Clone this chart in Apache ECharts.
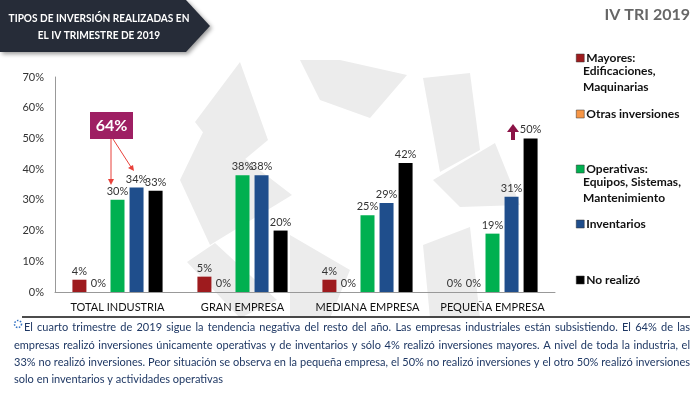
<!DOCTYPE html>
<html><head><meta charset="utf-8">
<script src="https://cdn.jsdelivr.net/npm/echarts@6/dist/echarts.min.js"></script>
<style>html,body{margin:0;padding:0;background:#fff}#c{width:700px;height:394px}</style>
</head><body><div id="c"></div>
<script>
const categories = ['TOTAL INDUSTRIA', 'GRAN EMPRESA', 'MEDIANA EMPRESA', 'PEQUEÑA EMPRESA'];
const seriesNames = ['Mayores: Edificaciones, Maquinarias', 'Otras inversiones', 'Operativas: Equipos, Sistemas, Mantenimiento', 'Inventarios', 'No realizó'];
const mayores = [4, 5, 4, 0];
const otras = [0, 0, 0, 0];
const operativas = [30, 38, 25, 19];
const inventarios = [34, 38, 29, 31];
const noRealizo = [33, 20, 42, 50];
const yTicks = [0, 10, 20, 30, 40, 50, 60, 70];
const colors = ['#9E1B1E', '#F79646', '#00B050', '#1F4E8C', '#000000'];
const legendLines = [['Mayores:', 'Edificaciones,', 'Maquinarias'], ['Otras inversiones'], ['Operativas:', 'Equipos, Sistemas,', 'Mantenimiento'], ['Inventarios'], ['No realizó']];
const legendY = [55, 111, 166, 221, 277];
const footLines = [
 'El cuarto trimestre de 2019 sigue la tendencia negativa del resto del año. Las empresas industriales están subsistiendo. El 64% de las',
 'empresas realizó inversiones únicamente operativas y de inventarios y sólo 4% realizó inversiones mayores. A nivel de toda la industria, el',
 '33% no realizó inversiones. Peor situación se observa en la pequeña empresa, el 50% no realizó inversiones y el otro 50% realizó inversiones',
 'solo en inventarios y actividades operativas'
];
const FONT = 'Lato';
const allData = [mayores, otras, operativas, inventarios, noRealizo];

const chart = echarts.init(document.getElementById('c'));

// watermark
const wm = [
 [[195,122],[240,62],[268,140],[232,170]],
 [[180,180],[205,128],[292,195],[210,245]],
 [[187,262],[215,243],[277,300],[240,318]],
 [[300,60],[340,60],[407,75],[370,118],[320,100]],
 [[423,78],[470,73],[480,150],[440,172]],
 [[433,180],[495,143],[520,205],[460,207]],
 [[423,245],[470,227],[480,318],[430,318]],
 [[290,235],[350,270],[330,318],[290,318]]
];
const graphics = [];
wm.forEach(p => graphics.push({type:'polygon', z:-10, silent:true, shape:{points:p}, style:{fill:'#ececec'}}));

// title box
graphics.push({type:'polygon', shape:{points:[[0,0],[186,0],[210,26],[186,52],[0,52]]}, style:{fill:'#262c38', shadowBlur:4, shadowColor:'rgba(0,0,0,0.4)', shadowOffsetX:2, shadowOffsetY:2}});
graphics.push({type:'text', x:99, y:18, scaleX:0.84, style:{text:'TIPOS DE INVERSIÓN REALIZADAS EN', fill:'#fff', font:'bold 12px '+FONT, align:'center', verticalAlign:'middle'}});
graphics.push({type:'text', x:99, y:35, scaleX:0.84, style:{text:'EL IV TRIMESTRE DE 2019', fill:'#fff', font:'bold 12px '+FONT, align:'center', verticalAlign:'middle'}});
graphics.push({type:'text', x:690, y:15, style:{text:'IV TRI 2019', fill:'#666', font:'bold 16px '+FONT, align:'right', verticalAlign:'middle'}});

// 64% annotation
graphics.push({type:'rect', shape:{x:90, y:112, width:43, height:27}, style:{fill:'#9E1F63'}});
graphics.push({type:'text', x:111.5, y:126, style:{text:'64%', fill:'#fff', font:'bold 16px '+FONT, align:'center', verticalAlign:'middle'}});
graphics.push({type:'line', shape:{x1:111, y1:139, x2:111, y2:180}, style:{stroke:'#E8413A', lineWidth:1}});
graphics.push({type:'polygon', shape:{points:[[108,179],[114,179],[111,185]]}, style:{fill:'#E8413A'}});
graphics.push({type:'line', shape:{x1:113, y1:139, x2:131, y2:167}, style:{stroke:'#E8413A', lineWidth:1}});
graphics.push({type:'polygon', shape:{points:[[128,168],[133,165],[134,171]]}, style:{fill:'#E8413A'}});
// up arrow
graphics.push({type:'rect', shape:{x:511, y:131, width:4, height:9}, style:{fill:'#8B1346'}});
graphics.push({type:'polygon', shape:{points:[[507,132],[519,132],[513,124]]}, style:{fill:'#8B1346'}});

// bottom rule
graphics.push({type:'line', shape:{x1:22, y1:317, x2:690, y2:317}, style:{stroke:'#111', lineWidth:1.5}});

// legend continuation lines
legendLines.forEach((ls, i) => {
  ls.slice(1).forEach((t, j) => graphics.push({type:'text', x:583, y:legendY[i] + 16*(j+1), style:{text:t, fill:'#111', font:'bold 12px '+FONT, verticalAlign:'middle'}}));
});

// footnote icon
graphics.push({type:'circle', shape:{cx:18, cy:324, r:3.5}, style:{fill:'none', stroke:'#2F6FC1', lineWidth:1.5, lineDash:[1.5,1.5]}});

// justified footnote
const ctx = document.createElement('canvas').getContext('2d');
const fFont = '11px ' + FONT;
ctx.font = fFont;
const footY = [327, 345, 362, 379];
footLines.forEach((line, i) => {
  const x0 = i === 0 ? 24 : 14, x1 = 690;
  const words = line.split(' ');
  if (i === footLines.length - 1) {
    graphics.push({type:'text', x:x0, y:footY[i], style:{text:line, fill:'#1F3864', font:fFont, verticalAlign:'middle'}});
    return;
  }
  const widths = words.map(w => ctx.measureText(w).width);
  const sum = widths.reduce((a,b)=>a+b,0);
  const gap = (x1 - x0 - sum) / (words.length - 1);
  let x = x0;
  words.forEach((w, k) => {
    graphics.push({type:'text', x:x, y:footY[i], style:{text:w, fill:'#1F3864', font:fFont, verticalAlign:'middle'}});
    x += widths[k] + gap;
  });
});

const legends = seriesNames.map((n, i) => ({
  data:[n], left:571, top:legendY[i] - 8, itemWidth:8, itemHeight:8, icon:'rect', itemGap:0,
  itemStyle:{borderColor:'#333', borderWidth:0.5},
  formatter: () => legendLines[i][0],
  textStyle:{fontFamily:FONT, fontWeight:'bold', fontSize:12, color:'#111', padding:[0,0,0,-3]},
  selectedMode:false
}));

chart.setOption({
  animation:false,
  textStyle:{fontFamily:FONT},
  grid:{left:55, right:145, top:77, bottom:102},
  legend: legends,
  xAxis:{type:'category', data:categories, axisTick:{show:false},
    axisLine:{lineStyle:{color:'#999'}},
    axisLabel:{color:'#111', fontSize:11, margin:10, fontFamily:FONT, interval:0}},
  yAxis:{type:'value', min:0, max:70, interval:10,
    axisLine:{show:true, lineStyle:{color:'#999'}}, splitLine:{show:false},
    axisLabel:{color:'#333', fontSize:11, margin:11, fontFamily:FONT, formatter: v => v + '%'}},
  series: seriesNames.map((n, i) => ({
    name:n, type:'bar', data:allData[i], barWidth:14, barGap:'36%', barCategoryGap:'28%',
    itemStyle:{color:colors[i]},
    label:{show:true, position:'top', distance:3, formatter:'{c}%', color:'#333', fontSize:11, fontFamily:FONT}
  })),
  graphic: graphics
});
</script></body></html>
